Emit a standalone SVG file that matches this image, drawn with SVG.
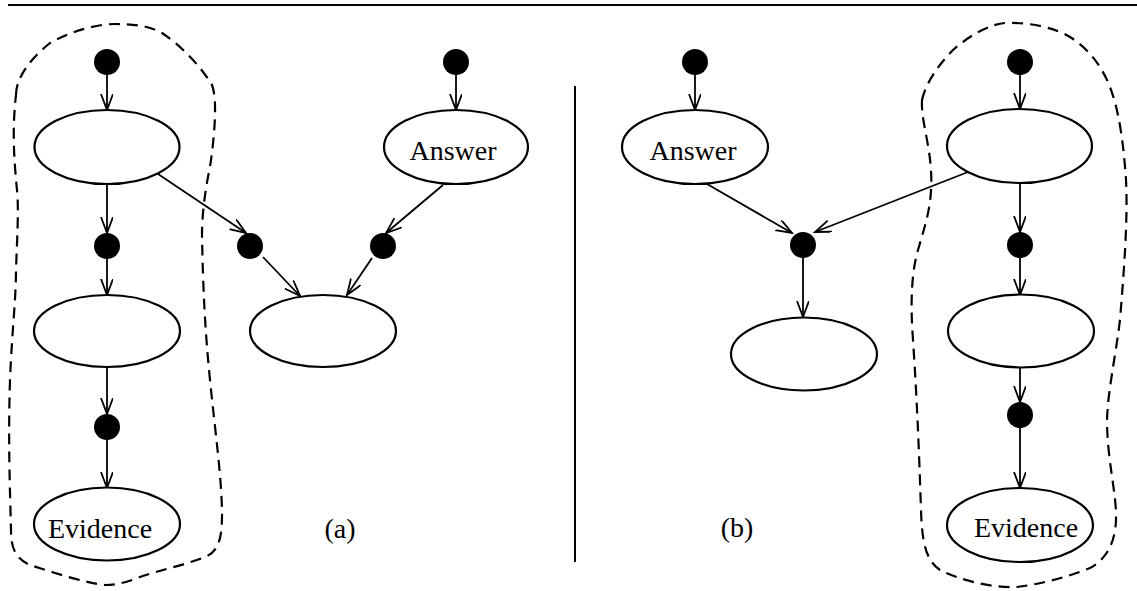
<svg xmlns="http://www.w3.org/2000/svg" width="1137" height="591" viewBox="0 0 1137 591">
<style>
.node{fill:#fff;stroke:#000;stroke-width:2.2}
.dot{fill:#000}
.edge{fill:none;stroke:#000;stroke-width:1.8}
.loop{fill:none;stroke:#000;stroke-width:2.2;stroke-dasharray:11 7}
.lbl{font-family:"Liberation Serif","Times New Roman",serif;font-size:28px;fill:#000}
</style>
<defs>
<marker id="arr" markerUnits="userSpaceOnUse" markerWidth="18" markerHeight="14" refX="16" refY="6" orient="auto">
<path d="M0,0 L16,6 L0,12" fill="none" stroke="#000" stroke-width="1.8"/>
</marker>
</defs>
<rect width="1137" height="591" fill="#fff"/>
<line x1="8" y1="5" x2="1137" y2="5" stroke="#000" stroke-width="2.2"/>
<line x1="575" y1="86" x2="575" y2="562" stroke="#000" stroke-width="2"/>
<g id="loops">
<path class="loop" d="M16,95 C16,75 35,55 50,43 C70,32 95,24 115,24 C135,24 150,26 162,33 C180,45 200,65 212,85 C218,100 214,140 210,167 C205,190 202,215 202,235 C203,290 205,330 210,380 C215,430 222,480 222,515 C222,540 218,552 205,557 C185,565 160,570 140,577 C125,583 115,585 105,585 C85,583 55,573 30,565 C15,558 11,548 11,530 C10,490 8,440 10,380 C12,330 16,300 16,270 C17,240 19,210 17,190 C14,160 12,130 16,95 Z"/>
<path class="loop" d="M922,100 C925,85 938,65 953,50 C970,35 990,24 1005,23 C1030,22 1055,28 1070,37 C1090,50 1100,65 1108,82 C1120,110 1124,150 1126,180 C1128,220 1124,270 1120,320 C1115,360 1108,390 1107,420 C1107,460 1117,495 1116,520 C1115,545 1105,560 1090,568 C1065,578 1040,584 1017,587 C990,588 960,580 940,570 C925,560 922,540 921,510 C919,450 917,400 913,340 C910,300 912,270 918,250 C925,225 933,205 931,170 C929,140 921,120 922,100 Z"/>
</g>
<g id="connectors">
<line class="edge" x1="107" y1="75" x2="107" y2="110" marker-end="url(#arr)"/>
<line class="edge" x1="107" y1="184" x2="107" y2="233" marker-end="url(#arr)"/>
<line class="edge" x1="107" y1="259" x2="107" y2="295" marker-end="url(#arr)"/>
<line class="edge" x1="107" y1="367" x2="107" y2="414" marker-end="url(#arr)"/>
<line class="edge" x1="107" y1="440" x2="107" y2="488" marker-end="url(#arr)"/>
<line class="edge" x1="158" y1="174" x2="246" y2="233" marker-end="url(#arr)"/>
<line class="edge" x1="263" y1="257" x2="300" y2="296" marker-end="url(#arr)"/>
<line class="edge" x1="456" y1="75" x2="456" y2="110" marker-end="url(#arr)"/>
<line class="edge" x1="443" y1="185" x2="386" y2="233" marker-end="url(#arr)"/>
<line class="edge" x1="372" y1="258" x2="347" y2="295" marker-end="url(#arr)"/>
<line class="edge" x1="695" y1="75" x2="695" y2="110" marker-end="url(#arr)"/>
<line class="edge" x1="707" y1="184" x2="792" y2="233" marker-end="url(#arr)"/>
<line class="edge" x1="1020" y1="75" x2="1020" y2="109" marker-end="url(#arr)"/>
<line class="edge" x1="968" y1="172" x2="815" y2="232" marker-end="url(#arr)"/>
<line class="edge" x1="803" y1="258" x2="803" y2="317" marker-end="url(#arr)"/>
<line class="edge" x1="1020" y1="183" x2="1020" y2="232" marker-end="url(#arr)"/>
<line class="edge" x1="1020" y1="258" x2="1020" y2="295" marker-end="url(#arr)"/>
<line class="edge" x1="1020" y1="368" x2="1020" y2="402" marker-end="url(#arr)"/>
<line class="edge" x1="1020" y1="428" x2="1020" y2="488" marker-end="url(#arr)"/>
</g>
<g id="a-dot1"><circle class="dot" cx="107" cy="62" r="13"/></g>
<g id="a-node1"><ellipse class="node" cx="107" cy="147" rx="72.5" ry="37"/></g>
<g id="a-dot2"><circle class="dot" cx="107" cy="246" r="13"/></g>
<g id="a-node2"><ellipse class="node" cx="107" cy="331" rx="73" ry="36"/></g>
<g id="a-dot3"><circle class="dot" cx="107" cy="427" r="13"/></g>
<g id="a-evidence"><ellipse class="node" cx="107" cy="524" rx="73" ry="36.5"/><text class="lbl" x="100" y="538" text-anchor="middle">Evidence</text></g>
<g id="a-dot4"><circle class="dot" cx="250" cy="246" r="13"/></g>
<g id="a-dot5"><circle class="dot" cx="456" cy="62" r="13"/></g>
<g id="a-answer"><ellipse class="node" cx="456" cy="147" rx="72" ry="37"/><text class="lbl" x="453" y="160" text-anchor="middle">Answer</text></g>
<g id="a-dot6"><circle class="dot" cx="383" cy="246" r="13"/></g>
<g id="a-node3"><ellipse class="node" cx="323" cy="331" rx="73" ry="36"/></g>
<g id="a-label"><text class="lbl" x="340" y="538" text-anchor="middle">(a)</text></g>
<g id="b-dot1"><circle class="dot" cx="695" cy="62" r="13"/></g>
<g id="b-answer"><ellipse class="node" cx="695" cy="147" rx="73" ry="37"/><text class="lbl" x="693" y="160" text-anchor="middle">Answer</text></g>
<g id="b-dot2"><circle class="dot" cx="803" cy="245" r="13"/></g>
<g id="b-node3"><ellipse class="node" cx="804" cy="354" rx="73" ry="36.5"/></g>
<g id="b-dot3"><circle class="dot" cx="1020" cy="62" r="13"/></g>
<g id="b-node1"><ellipse class="node" cx="1019.5" cy="146" rx="72.5" ry="37"/></g>
<g id="b-dot4"><circle class="dot" cx="1020" cy="245" r="13"/></g>
<g id="b-node2"><ellipse class="node" cx="1021" cy="331" rx="73" ry="36.5"/></g>
<g id="b-dot5"><circle class="dot" cx="1020" cy="415" r="13"/></g>
<g id="b-evidence"><ellipse class="node" cx="1020" cy="525" rx="73" ry="37"/><text class="lbl" x="1026" y="537" text-anchor="middle">Evidence</text></g>
<g id="b-label"><text class="lbl" x="737" y="537" text-anchor="middle">(b)</text></g>
</svg>
